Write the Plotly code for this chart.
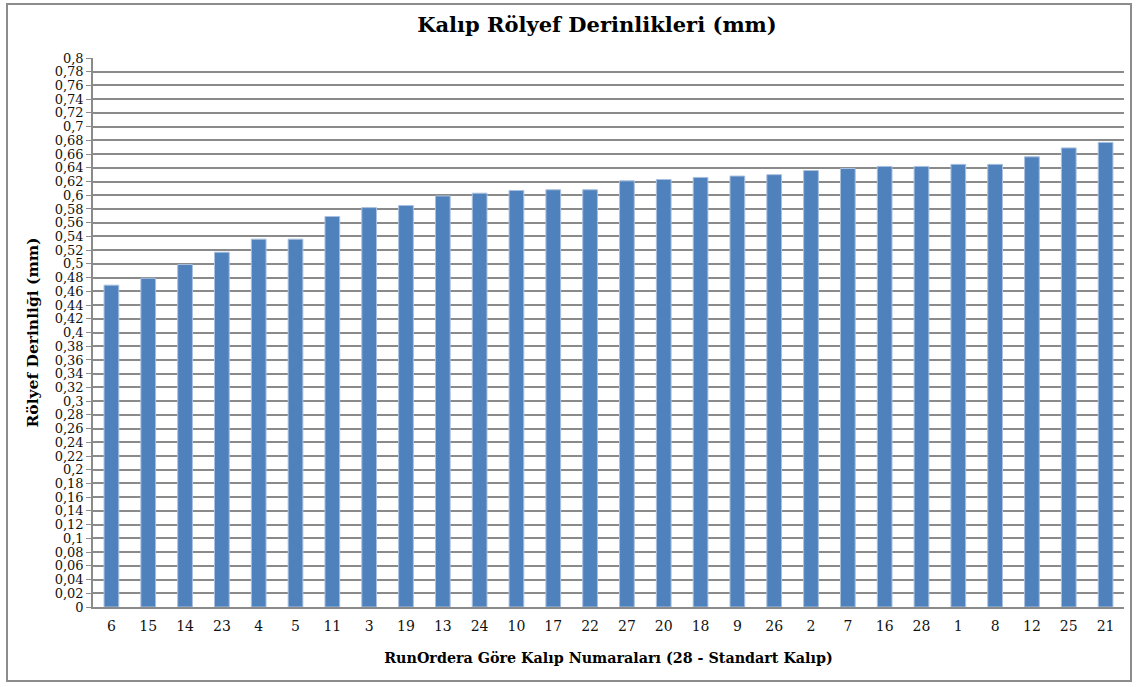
import plotly.graph_objects as go

categories = ["6", "15", "14", "23", "4", "5", "11", "3", "19", "13", "24", "10", "17", "22",
              "27", "20", "18", "9", "26", "2", "7", "16", "28", "1", "8", "12", "25", "21"]
depths = [0.469, 0.479, 0.499, 0.517, 0.536, 0.536, 0.569, 0.582, 0.585, 0.599, 0.603, 0.607, 0.608, 0.608,
          0.621, 0.623, 0.626, 0.628, 0.630, 0.636, 0.639, 0.642, 0.642, 0.645, 0.645, 0.656, 0.669, 0.677]
y_tick_vals = [round(i * 0.02, 2) for i in range(41)]
y_tick_text = [("%g" % v).replace(".", ",") for v in y_tick_vals]

title_text = "Kalıp Rölyef Derinlikleri (mm)"
x_title = "RunOrdera Göre Kalıp Numaraları (28 - Standart Kalıp)"
y_title = "Rölyef Derinliği (mm)"

FONT = "DejaVu Serif"
W, H = 1136, 687
L, R, T, B = 93, 12, 58, 80
pw, ph = W - L - R, H - T - B

def px_x(x):
    return (x - L) / pw

def px_y(y):
    return (H - B - y) / ph

fig = go.Figure(go.Bar(
    x=categories, y=depths,
    marker=dict(color="#4F81BD", line=dict(color="#A9C1DF", width=1)),
    width=0.4,
))

fig.update_layout(
    width=W, height=H,
    margin=dict(l=L, r=R, t=T, b=B),
    paper_bgcolor="white", plot_bgcolor="white",
    font=dict(family=FONT, color="#111111", size=13),
    showlegend=False,
    title=dict(text="<b>%s</b>" % title_text, font=dict(size=21, family=FONT, color="#000000"),
               x=px_x(597), xref="paper", xanchor="center", y=1 - 25 / H, yanchor="middle"),
    xaxis=dict(
        type="category", showgrid=False, showline=True, linecolor="#8a8a8a", linewidth=1.5,
        ticks="", tickfont=dict(size=14, family=FONT), ticklabelstandoff=5,
        title=dict(text="<b>%s</b>" % x_title, font=dict(size=14.3, family=FONT, color="#000000"), standoff=20),
        range=[-0.5, 27.5],
    ),
    yaxis=dict(
        range=[0, 0.8], tickvals=y_tick_vals, ticktext=y_tick_text,
        showgrid=True, gridcolor="#8a8a8a", gridwidth=1.5,
        showline=True, linecolor="#8a8a8a", linewidth=1.5,
        ticks="outside", ticklen=5, tickcolor="#8a8a8a", tickwidth=1,
        tickfont=dict(size=13, family=FONT),
        title=dict(text="<b>%s</b>" % y_title, font=dict(size=15.5, family=FONT, color="#000000"), standoff=12),
        zeroline=False,
    ),
    bargap=0.6,
)

fig.add_shape(type="rect", xref="paper", yref="paper",
              x0=px_x(7), x1=px_x(1131), y0=px_y(681), y1=px_y(4),
              line=dict(color="#8c8c8c", width=2), fillcolor="rgba(0,0,0,0)", layer="below")

fig.write_html("out.html", config={"displayModeBar": False},
               post_script="document.body.style.margin='0';document.body.style.padding='0';")
